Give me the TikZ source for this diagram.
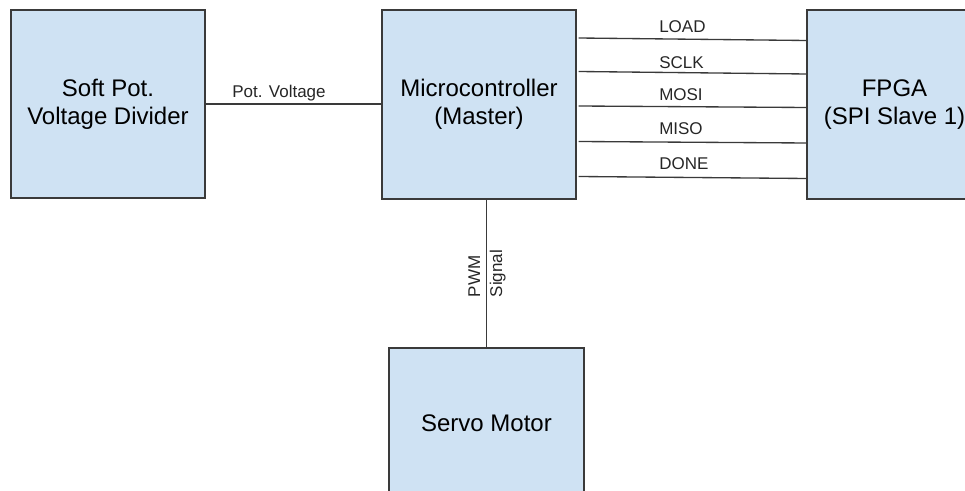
\documentclass[tikz,border=0pt]{standalone}
\usepackage{fontspec}
\setmainfont{Liberation Sans}
\usetikzlibrary{positioning}

\definecolor{boxfill}{HTML}{CFE2F3}
\definecolor{boxline}{HTML}{3A3A3A}

\begin{document}
\begin{tikzpicture}[x=0.75pt, y=-0.75pt,
    block/.style={draw=boxline, fill=boxfill, line width=1pt, inner sep=0pt,
                  align=center, font=\fontsize{18}{21}\selectfont},
    wire/.style={draw=boxline, line width=1pt},
    siglabel/.style={inner sep=0pt, font=\fontsize{12.75}{16.5}\selectfont, text=black!85}]
    % page frame, 965 x 491 px
    \useasboundingbox (0,0) rectangle (965,491);
    \clip (0,0) rectangle (965,491);

    % blocks
    \node[block, minimum width=145.5pt, minimum height=141pt] (divider) at (108,104)
        {Soft Pot.\\Voltage Divider};
    \node[block, minimum width=145.5pt, minimum height=141.75pt] (mcu) at (479,104.5)
        {Microcontroller\\(Master)};
    \node[block, minimum width=131.25pt, minimum height=141.75pt] (fpga) at (894.5,104.5)
        {FPGA\\(SPI Slave 1)};
    \node[block, minimum width=146.25pt, minimum height=112.5pt] (servo) at (486.5,423)
        {Servo Motor};

    % analog input
    \draw[wire] (divider.east |- 0,104) -- (mcu.west |- 0,104);
    \node[siglabel] (potlabel) at (279,93) {Pot. Voltage};

    % SPI bus
    \foreach \sig/\ya/\yb/\yl in {LOAD/38/40.5/27, SCLK/71.5/74/63,
                                  MOSI/106/107.5/95, MISO/141.5/143/128.5,
                                  DONE/176.5/178.5/163.5} {
        \draw[wire] ([xshift=1.5pt]mcu.east |- 0,\ya) -- (fpga.west |- 0,\yb);
        \node[siglabel, anchor=west] (lbl-\sig) at (659,\yl) {\sig};
    }

    % servo drive
    \draw[wire] (servo.north |- mcu.south) -- (servo.north);
    \node[siglabel, rotate=90, align=left] (pwmlabel) at (487,273.5) {PWM\\Signal};
\end{tikzpicture}
\end{document}
